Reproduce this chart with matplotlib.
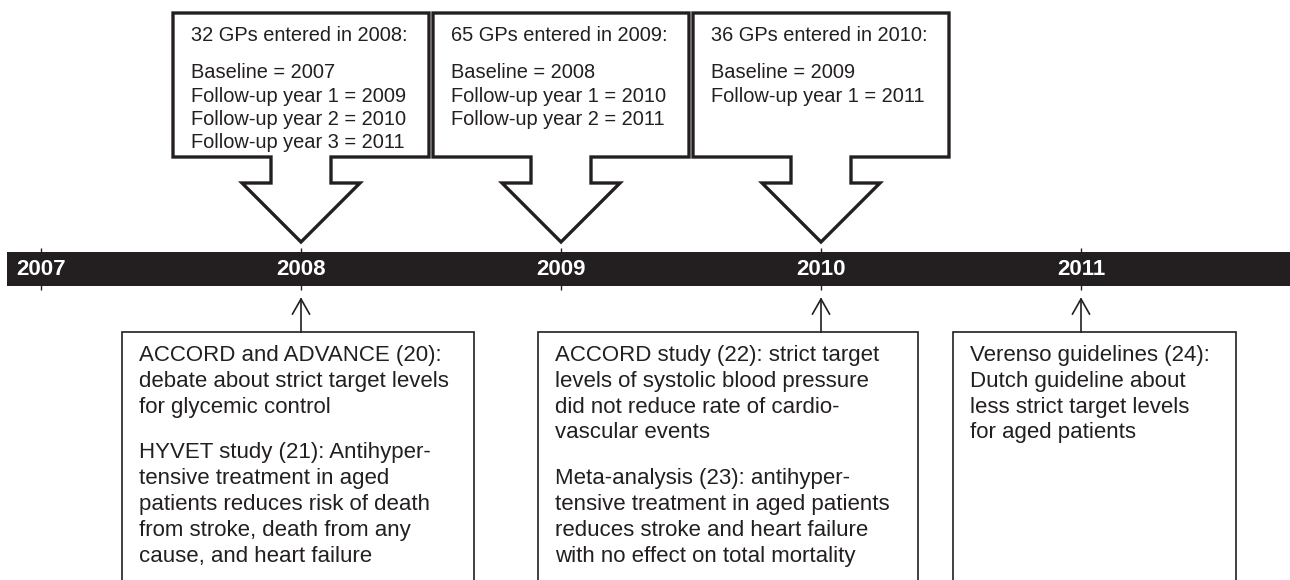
import matplotlib.pyplot as plt
from matplotlib.patches import Polygon, Rectangle

plt.rcParams['font.family'] = ['Liberation Sans', 'DejaVu Sans']

INK = '#231f20'

years = [2007, 2008, 2009, 2010, 2011]

# GP cohorts (callouts above the timeline)
cohort_years = [2008, 2009, 2010]
cohort_titles = ["32 GPs entered in 2008:", "65 GPs entered in 2009:", "36 GPs entered in 2010:"]
cohort_lines = [
    ["Baseline = 2007", "Follow-up year 1 = 2009", "Follow-up year 2 = 2010", "Follow-up year 3 = 2011"],
    ["Baseline = 2008", "Follow-up year 1 = 2010", "Follow-up year 2 = 2011"],
    ["Baseline = 2009", "Follow-up year 1 = 2011"],
]

# publications (boxes below the timeline)
event_years = [2008, 2010, 2011]
event_texts = [
    [["ACCORD and ADVANCE (20):", "debate about strict target levels", "for glycemic control"],
     ["HYVET study (21): Antihyper-", "tensive treatment in aged", "patients reduces risk of death",
      "from stroke, death from any", "cause, and heart failure"]],
    [["ACCORD study (22): strict target", "levels of systolic blood pressure",
      "did not reduce rate of cardio-", "vascular events"],
     ["Meta-analysis (23): antihyper-", "tensive treatment in aged patients",
      "reduces stroke and heart failure", "with no effect on total mortality"]],
    [["Verenso guidelines (24):", "Dutch guideline about", "less strict target levels",
      "for aged patients"]],
]
# box edges in pixels relative to the year tick
event_box_span = [(-179, 173), (-283, 97), (-128, 155)]

W, H = 1290, 580
PX_YEAR = 260.0
X2007 = 41.0
d = 1 / PX_YEAR  # one pixel in year units

fig = plt.figure(figsize=(W / 100, H / 100), dpi=100)
ax = fig.add_axes([0, 0, 1, 1])
ax.set_xlim(2007 - X2007 * d, 2007 + (W - X2007) * d)
ax.set_ylim(H, 0)
ax.axis('off')

# timeline bar
ax.vlines(years, 248, 290, color=INK, lw=1, zorder=1)
ax.axhspan(252, 286, xmin=7 / W, xmax=1, color=INK, lw=0, zorder=2)
for y in years:
    ax.text(y, 275, str(y), ha='center', va='baseline', color='white',
            fontsize=16, fontweight='bold', zorder=3)

# cohort callouts
for yr, title, lines in zip(cohort_years, cohort_titles, cohort_lines):
    L, R = yr - 128 * d, yr + 128 * d
    s, h = 30 * d, 59 * d
    verts = [(L, 13), (R, 13), (R, 157), (yr + s, 157), (yr + s, 183), (yr + h, 183),
             (yr, 242), (yr - h, 183), (yr - s, 183), (yr - s, 157), (L, 157)]
    ax.add_patch(Polygon(verts, closed=True, facecolor='white', edgecolor=INK,
                         lw=2.4, joinstyle='miter', zorder=4))
    tx = L + 18 * d
    ax.text(tx, 41, title, fontsize=14.4, color=INK, va='baseline', zorder=5)
    for i, line in enumerate(lines):
        ax.text(tx, 78 + i * 23.5, line, fontsize=14.4, color=INK, va='baseline', zorder=5)

# publication boxes
for yr, paras, (l, r) in zip(event_years, event_texts, event_box_span):
    ax.add_patch(Rectangle((yr + l * d, 332), (r - l) * d, 300, facecolor='white',
                           edgecolor=INK, lw=1.2, zorder=4))
    ax.plot([yr, yr], [332, 299], color=INK, lw=1.2, zorder=4)
    ax.plot([yr - 8.5 * d, yr, yr + 8.5 * d], [314, 299, 314], color=INK, lw=1.2, zorder=4)
    ty = 361
    for para in paras:
        for line in para:
            ax.text(yr + (l + 17) * d, ty, line, fontsize=16, color=INK, va='baseline', zorder=5)
            ty += 25.8
        ty += 20

fig.savefig('out.png', dpi=100)
